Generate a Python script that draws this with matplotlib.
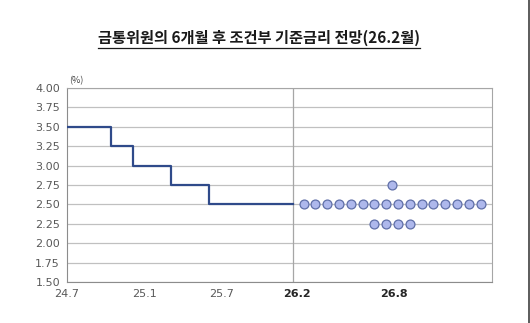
import numpy as np
import matplotlib.pyplot as plt
from matplotlib.lines import Line2D

plt.rcParams['font.family'] = ['Noto Sans CJK KR', 'DejaVu Sans']

# --- data ---
# step line: month index (0 = 24.7) where the base rate changes
step_x = [0, 3.7, 5.55, 8.74, 11.93, 19.0]
step_rate = [3.50, 3.25, 3.00, 2.75, 2.50, 2.50]

# dot plot of 6-month-ahead views
dot_rates = [2.75, 2.50, 2.25]
dot_counts = [1, 16, 4]
dot_center = 27.35
dot_spacing = 0.993

tick_pos = [0, 6.56, 13.04, 19.38, 27.5]
tick_labels = ['24.7', '25.1', '25.7', '26.2', '26.8']
tick_bold = [False, False, False, True, True]
divider_x = 19.0

title = '금통위원의 6개월 후 조건부 기준금리 전망(26.2월)'

# --- figure ---
fig = plt.figure(figsize=(5.30, 3.23), dpi=100)
ax = fig.add_axes([67 / 530, 41 / 323, 425 / 530, 194 / 323])

ax.set_xlim(0, 35.75)
ax.set_ylim(1.5, 4.0)
ax.set_yticks(np.arange(1.5, 4.01, 0.25))
ax.set_yticklabels([f'{v:.2f}' for v in np.arange(1.5, 4.01, 0.25)],
                   fontsize=8, color='#595959', family='DejaVu Sans')
ax.yaxis.grid(True, color='#C0C0C0', lw=0.9)
ax.set_axisbelow(True)

ax.set_xticks(tick_pos)
ax.set_xticklabels(tick_labels, fontsize=8, family='DejaVu Sans')
for lab, b in zip(ax.get_xticklabels(), tick_bold):
    lab.set_color('#262626' if b else '#595959')
    lab.set_fontweight('bold' if b else 'normal')
ax.tick_params(length=0, pad=5)

for s in ['left', 'bottom']:
    ax.spines[s].set_color('#8C8C8C')
for s in ['right', 'top']:
    ax.spines[s].set_color('#A6A6A6')

ax.axvline(divider_x, color='#A6A6A6', lw=0.9, zorder=1)

ax.step(step_x, step_rate, where='post', color='#2F4A8A', lw=1.6, zorder=3)

for r, n in zip(dot_rates, dot_counts):
    xs = dot_center + (np.arange(n) - (n - 1) / 2) * dot_spacing
    ax.plot(xs, [r] * n, 'o', ms=6.4, mfc='#AEB8EC', mec='#5F6FA8', mew=0.9, zorder=4)

ax.text(0.005, 1.015, '(%)', transform=ax.transAxes, fontsize=6.5,
        color='#404040', ha='left', va='bottom')

t = fig.text(0.489, 0.882, title, ha='center', va='center', fontsize=11,
             fontweight='bold', color='#1A1A1A')
fig.canvas.draw()
bb = t.get_window_extent().transformed(fig.transFigure.inverted())
fig.add_artist(Line2D([bb.x0, bb.x1], [bb.y0 - 0.004] * 2, color='#1A1A1A', lw=0.9))

# screenshot border on the right
fig.add_artist(Line2D([528.5 / 530] * 2, [0, 1], color='#404040', lw=1.2))

fig.savefig('out.png', dpi=100)
